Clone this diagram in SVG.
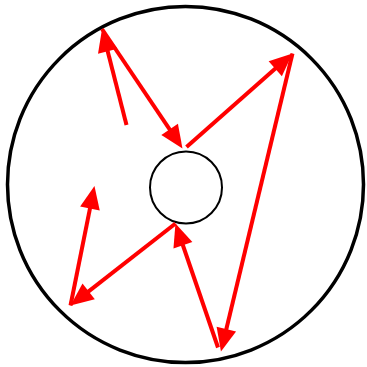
<svg xmlns="http://www.w3.org/2000/svg" width="367" height="367" viewBox="0 0 367 367">
<style>
.c{fill:none;stroke:#000}
.a{fill:none;stroke:#ff0000;stroke-width:4;marker-end:url(#ah)}
</style>
<defs>
<marker id="ah" markerUnits="userSpaceOnUse" markerWidth="24" markerHeight="20" refX="13" refY="10" orient="auto" overflow="visible">
<path d="M0,0 L23,10 L0,20 z" fill="#ff0000"/>
</marker>
</defs>
<rect width="367" height="367" fill="#fff"/>
<g id="outer"><circle class="c" cx="185.5" cy="184.5" r="178" stroke-width="3.5"/></g>
<g id="inner"><circle class="c" cx="186" cy="187.5" r="36" stroke-width="2"/></g>
<g id="connectors">
<line class="a" x1="126.5" y1="125" x2="104.5" y2="38.7"/>
<line class="a" x1="102" y1="29" x2="176.9" y2="140.2"/>
<line class="a" x1="186.5" y1="147" x2="285" y2="60.1"/>
<line class="a" x1="292.5" y1="53.5" x2="223.3" y2="341.8"/>
<line class="a" x1="218" y1="347.5" x2="178.7" y2="233"/>
<line class="a" x1="175.5" y1="223.5" x2="78.4" y2="299.3"/>
<line class="a" x1="70.5" y1="305.5" x2="92.5" y2="195.8"/>
</g>
</svg>
